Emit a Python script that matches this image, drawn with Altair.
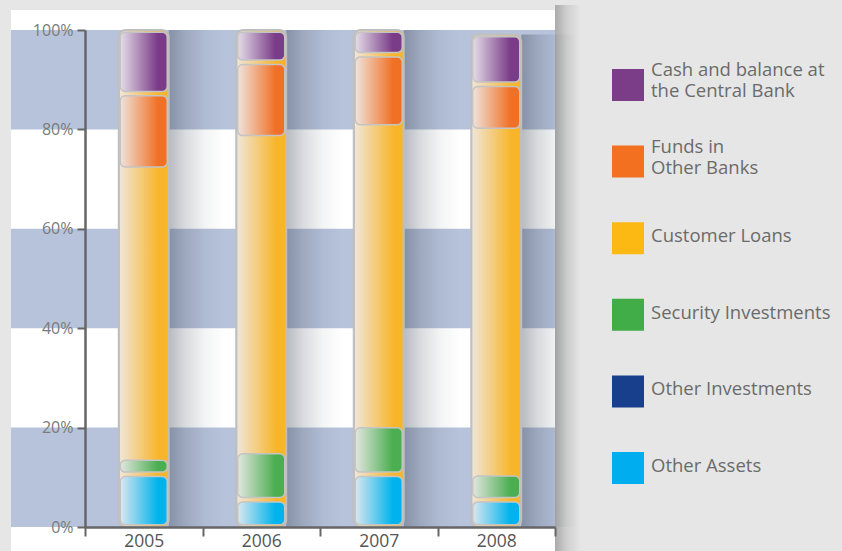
import altair as alt
import pandas as pd

# ---------------- data ----------------
years = ["2005", "2006", "2007", "2008"]
series_stack = [
    "Other Assets",
    "Other Investments",
    "Security Investments",
    "Customer Loans",
    "Funds in Other Banks",
    "Cash and balance at the Central Bank",
]
other_assets = [10.6, 5.5, 10.6, 5.5]
other_investments = [0.0, 0.0, 0.0, 0.0]
security_investments = [3.3, 9.7, 9.8, 5.2]
customer_loans = [58.1, 63.1, 60.1, 69.1]
funds_other_banks = [15.2, 15.2, 14.5, 9.3]
cash_central_bank = [12.8, 6.5, 5.0, 10.0]

y_ticks = [0, 20, 40, 60, 80, 100]
band_low = [0, 40, 80]
band_high = [20, 60, 100]

legend_order = [
    "Cash and balance at the Central Bank",
    "Funds in Other Banks",
    "Customer Loans",
    "Security Investments",
    "Other Investments",
    "Other Assets",
]
legend_text = [
    "Cash and balance at|the Central Bank",
    "Funds in|Other Banks",
    "Customer Loans",
    "Security Investments",
    "Other Investments",
    "Other Assets",
]
legend_colors = ["#7b3c88", "#f37021", "#fdb913", "#40ad48", "#183f8b", "#00aeef"]

full_col = {
    "Other Assets": "#00b3ec",
    "Other Investments": "#1b3f8b",
    "Security Investments": "#4bae50",
    "Customer Loans": "#f8b52a",
    "Funds in Other Banks": "#f07126",
    "Cash and balance at the Central Bank": "#7a3b88",
}
light_col = {
    "Other Assets": "#dbe7ef",
    "Other Investments": "#dde0ea",
    "Security Investments": "#e3e6e0",
    "Customer Loans": "#efe7dc",
    "Funds in Other Banks": "#efe3dc",
    "Cash and balance at the Central Bank": "#e4dde7",
}

values_by_series = [other_assets, other_investments, security_investments,
                    customer_loans, funds_other_banks, cash_central_bank]
rows = []
for order, (name, vals) in enumerate(zip(series_stack, values_by_series)):
    for yr, v in zip(years, vals):
        rows.append({"year": yr, "series": name, "value": v, "order": order})
df = pd.DataFrame(rows)
bands_df = pd.DataFrame({"lo": band_low, "hi": band_high})
legend_df = pd.DataFrame({"series": legend_order, "label": legend_text,
                          "lines": [len(t.split("|")) for t in legend_text]})

FONT = "Open Sans"
W, H = 470, 497
LEG_X = W + 57          # left edge of legend squares (view coords)


def grad(c0, c1, mid=0.8):
    return alt.Gradient(
        gradient="linear", x1=0, x2=1, y1=0, y2=0,
        stops=[alt.GradientStop(color=c0, offset=0),
               alt.GradientStop(color=c1, offset=mid),
               alt.GradientStop(color=c1, offset=1)],
    )


x_enc = alt.X(
    "year:N",
    scale=alt.Scale(domain=years, paddingInner=0, paddingOuter=0),
    axis=alt.Axis(
        title=None, labelAngle=0, tickBand="extent", zindex=2,
        domainColor="#666666", domainWidth=2.5,
        tickColor="#666666", tickWidth=2, tickSize=9,
        labelFont=FONT, labelFontSize=17.5, labelColor="#555555", labelPadding=-4,
    ),
)
y_scale = alt.Scale(domain=[0, 100], nice=False)
y_axis = alt.Axis(
    title=None, values=y_ticks, labelExpr="datum.value + '%'", grid=False, zindex=2,
    domainColor="#666666", domainWidth=2.5,
    tickColor="#666666", tickWidth=2, tickSize=8,
    labelFont=FONT, labelFontSize=16, labelColor="#7a7a7a", labelPadding=4,
)

one = alt.Data(values=[{"p": 1}])

# white panel and its shadow
panel = alt.Chart(one).mark_rect(fill="white").encode(
    x=alt.value(-74), x2=alt.value(W), y=alt.value(-20), y2=alt.value(H + 40)
)
panel_shadow = alt.Chart(one).mark_rect(
    fill=alt.Gradient(
        gradient="linear", x1=0, x2=1, y1=0, y2=0,
        stops=[alt.GradientStop(color="rgba(0,0,0,0.26)", offset=0),
               alt.GradientStop(color="rgba(0,0,0,0.10)", offset=0.45),
               alt.GradientStop(color="rgba(0,0,0,0)", offset=1)],
    )
).encode(x=alt.value(W), x2=alt.value(W + 26), y=alt.value(-25), y2=alt.value(H + 40))

# horizontal bands
bands = alt.Chart(bands_df).mark_rect(fill="#b7c3da").encode(
    x=alt.value(-74), x2=alt.value(W),
    y=alt.Y("lo:Q", scale=y_scale, axis=y_axis), y2="hi:Q",
)

totals = alt.Chart(df).transform_aggregate(total="sum(value)", groupby=["year"])

bar_shadow = totals.mark_bar(
    width=56, xOffset=53,
    fill=alt.Gradient(
        gradient="linear", x1=0, x2=1, y1=0, y2=0,
        stops=[alt.GradientStop(color="rgba(30,40,60,0.32)", offset=0),
               alt.GradientStop(color="rgba(30,40,60,0.17)", offset=0.3),
               alt.GradientStop(color="rgba(30,40,60,0.05)", offset=0.65),
               alt.GradientStop(color="rgba(30,40,60,0)", offset=1)],
    ),
).encode(x=x_enc, y=alt.Y("total:Q", scale=y_scale, axis=None))

tube = totals.mark_bar(
    width=50, cornerRadius=7, stroke="#bfbfbf", strokeWidth=2,
    fill=grad(light_col["Customer Loans"], full_col["Customer Loans"]),
).encode(x=x_enc, y=alt.Y("total:Q", scale=y_scale, axis=None))

stacked = alt.Chart(df).transform_stack(
    stack="value", groupby=["year"], as_=["v0", "v1"],
    sort=[alt.SortField("order", order="ascending")],
).transform_calculate(lo="datum.v0 + 0.45", hi="datum.v1 - 0.45")

box_layers = []
for name in series_stack:
    if name == "Customer Loans":
        continue
    box_layers.append(
        stacked.transform_filter(
            (alt.datum.series == name) & (alt.datum.value > 0)
        ).mark_bar(
            width=47, cornerRadius=5, stroke="#c4c4c4", strokeWidth=1.5,
            fill=grad(light_col[name], full_col[name]),
        ).encode(
            x=x_enc,
            y=alt.Y("lo:Q", scale=y_scale, axis=None),
            y2="hi:Q",
        )
    )

# ---------------- legend (own point scale) ----------------
leg_scale = alt.Scale(type="point", domain=legend_order, range=[55, 438], padding=0)
leg_color = alt.Color("series:N", scale=alt.Scale(domain=legend_order, range=legend_colors),
                      legend=None)

leg_squares = alt.Chart(legend_df).mark_square(size=1024, opacity=1, strokeWidth=0).encode(
    x=alt.value(LEG_X + 16),
    y=alt.Y("series:N", scale=leg_scale, axis=None),
    color=leg_color,
)
leg_text_1 = alt.Chart(legend_df).transform_filter("datum.lines == 1").mark_text(
    align="left", baseline="middle", font=FONT, fontSize=18.5, color="#6b6b6b", dy=-2,
).encode(
    x=alt.value(LEG_X + 39),
    y=alt.Y("series:N", scale=leg_scale, axis=None),
    text="label:N",
)
leg_text_2 = alt.Chart(legend_df).transform_filter("datum.lines == 2").mark_text(
    align="left", baseline="middle", font=FONT, fontSize=18.5, color="#6b6b6b",
    lineBreak="|", lineHeight=21, dy=-15,
).encode(
    x=alt.value(LEG_X + 39),
    y=alt.Y("series:N", scale=leg_scale, axis=None),
    text="label:N",
)

chart = alt.layer(
    panel, panel_shadow, bands, bar_shadow, tube, *box_layers,
    leg_squares, leg_text_1, leg_text_2,
).resolve_scale(y="independent").properties(
    width=W, height=H,
    autosize=alt.AutoSizeParams(type="none"),
    padding={"left": 85, "top": 30, "right": 287, "bottom": 24},
    background="#e6e6e6",
).configure_view(stroke=None)

chart.save("out.html", embed_options={"renderer": "svg", "actions": False})
